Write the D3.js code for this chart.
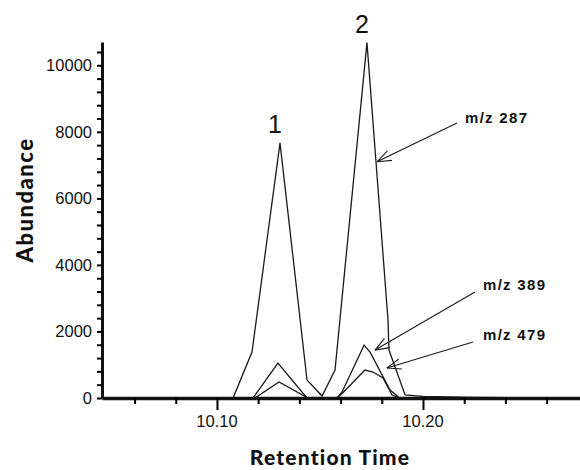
<!DOCTYPE html>
<meta charset="utf-8">
<script src="https://d3js.org/d3.v7.min.js"></script>
<style>
  body { margin: 0; background: white; }
  svg text { fill: #111; }
</style>
<div id="chart"></div>
<script>
  // retention time (min) / abundance
  var time287 = [10.050, 10.1078, 10.1170, 10.1306, 10.1437, 10.1510, 10.1573, 10.1728, 10.1830, 10.1835, 10.1913, 10.2000, 10.2250, 10.2700];
  var mz287   = [0, 0, 1380, 7670, 540, 60, 840, 10680, 2350, 1440, 90, 50, 20, 0];

  var time389 = [10.050, 10.1175, 10.1296, 10.1437, 10.1583, 10.1607, 10.1714, 10.1743, 10.1840, 10.1888, 10.2700];
  var mz389   = [0, 0, 1050, 0, 0, 180, 1590, 1380, 240, 0, 0];

  var time479 = [10.050, 10.1184, 10.1301, 10.1442, 10.1583, 10.1610, 10.1718, 10.1757, 10.1806, 10.1850, 10.1888, 10.2700];
  var mz479   = [0, 0, 480, 0, 0, 150, 840, 780, 600, 90, 0, 0];

  var peakLabels = ["1", "2"];
  var peakTimes  = [10.1296, 10.1718];
  var peakValues = [7670, 10680];

  var seriesNames = ["m/z 287", "m/z 389", "m/z 479"];
  var arrowTipTime = [10.1777, 10.1767, 10.1825];
  var arrowTipValue = [7100, 1440, 900];

  var yTicks = d3.range(0, 10401, 400);
  var xTicks = d3.range(10.06, 10.27, 0.02).map(d => +d.toFixed(2));
  var xLabels = [10.10, 10.20];

  var width = 580, height = 470;

  var svg = d3.select("#chart").append("svg")
    .attr("width", width)
    .attr("height", height);

  var x = d3.scaleLinear().domain([10.0442, 10.2762]).range([102, 580]);
  var y = d3.scaleLinear().domain([0, 10700]).range([398, 42]);

  // curves
  var line = d3.line().x(d => x(d[0])).y(d => y(d[1]));
  function zip(t, v) { return t.map((d, i) => [d, v[i]]); }
  var traces = [zip(time287, mz287), zip(time389, mz389), zip(time479, mz479)];

  svg.append("g").selectAll("path")
    .data(traces)
    .enter().append("path")
      .attr("d", line)
      .attr("fill", "none")
      .attr("stroke", "#1a1a1a")
      .attr("stroke-width", 1.3)
      .attr("stroke-linejoin", "miter");

  // y axis
  var yAxis = svg.append("g")
    .attr("transform", "translate(102,0)")
    .call(d3.axisLeft(y).tickValues(yTicks).tickSize(5).tickSizeOuter(0)
      .tickFormat(d => d % 2000 === 0 ? d : ""));
  yAxis.select(".domain").attr("stroke", "#111").attr("stroke-width", 3);
  yAxis.selectAll(".tick line").attr("stroke", "#000").attr("stroke-width", 2);
  yAxis.selectAll(".tick text")
    .attr("font-family", "'Liberation Sans', Arial, sans-serif")
    .attr("font-size", 16.5)
    .attr("x", -10);

  // x axis
  var xAxis = svg.append("g")
    .attr("transform", "translate(0,398)")
    .call(d3.axisBottom(x).tickValues(xTicks).tickSize(6).tickSizeOuter(0).tickFormat(""));
  xAxis.select(".domain").attr("stroke", "#111").attr("stroke-width", 3.5);
  xAxis.selectAll(".tick line").attr("stroke", "#000").attr("stroke-width", 2)
    .attr("y2", d => xLabels.some(l => Math.abs(l - d) < 1e-6) ? 12 : 6);

  svg.append("g").selectAll("text")
    .data(xLabels)
    .enter().append("text")
      .attr("x", d => x(d))
      .attr("y", 427)
      .attr("text-anchor", "middle")
      .attr("font-family", "'Liberation Sans', Arial, sans-serif")
      .attr("font-size", 16.5)
      .text(d => d.toFixed(2));

  // axis titles
  svg.append("text")
    .attr("x", 330)
    .attr("y", 465)
    .attr("text-anchor", "middle")
    .attr("font-family", "Lato, 'DejaVu Sans', sans-serif")
    .attr("font-weight", 900)
    .attr("font-size", 21)
    .attr("letter-spacing", 1.2)
    .text("Retention Time");

  svg.append("text")
    .attr("transform", "translate(33,200) rotate(-90)")
    .attr("text-anchor", "middle")
    .attr("font-family", "Lato, 'DejaVu Sans', sans-serif")
    .attr("font-weight", 900)
    .attr("font-size", 22)
    .attr("letter-spacing", 1.5)
    .text("Abundance");

  // peak numbers
  svg.append("g").selectAll("text")
    .data(peakLabels)
    .enter().append("text")
      .attr("x", (d, i) => x(peakTimes[i]) - 3)
      .attr("y", (d, i) => y(peakValues[i]) - 10)
      .attr("text-anchor", "middle")
      .attr("font-family", "'Liberation Sans', Arial, sans-serif")
      .attr("font-size", 25)
      .text(d => d);

  // annotations with open arrows
  var textPos = [[465, 123], [483, 290], [483, 340]];
  var tailPos = [[457, 123], [475, 292], [473, 342]];

  var ann = svg.append("g");
  seriesNames.forEach(function(name, i) {
    var tx = x(arrowTipTime[i]), ty = y(arrowTipValue[i]);
    var sx = tailPos[i][0], sy = tailPos[i][1];
    ann.append("line")
      .attr("x1", sx).attr("y1", sy).attr("x2", tx).attr("y2", ty)
      .attr("stroke", "#1a1a1a").attr("stroke-width", 1.1);
    var ang = Math.atan2(sy - ty, sx - tx);
    [-0.36, 0.36].forEach(function(a) {
      ann.append("line")
        .attr("x1", tx).attr("y1", ty)
        .attr("x2", tx + 15 * Math.cos(ang + a))
        .attr("y2", ty + 15 * Math.sin(ang + a))
        .attr("stroke", "#1a1a1a").attr("stroke-width", 1.1);
    });
    ann.append("text")
      .attr("x", textPos[i][0])
      .attr("y", textPos[i][1])
      .attr("font-family", "'Liberation Sans', Arial, sans-serif")
      .attr("font-weight", "bold")
      .attr("font-size", 15)
      .attr("letter-spacing", 1.3)
      .text(name);
  });
</script>
